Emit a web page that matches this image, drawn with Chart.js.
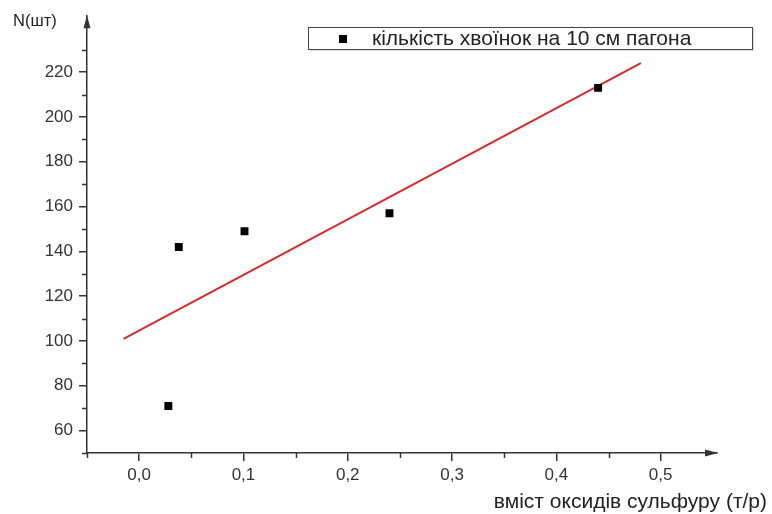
<!DOCTYPE html>
<html>
<head>
<meta charset="utf-8">
<script src="https://cdn.jsdelivr.net/npm/chart.js@4.4.1/dist/chart.umd.min.js"></script>
<style>
html,body{margin:0;padding:0;background:#fff;}
#wrap{width:772px;height:514px;position:relative;}
</style>
</head>
<body>
<div id="wrap"><canvas id="c" width="772" height="514"></canvas></div>
<script>
// ---- data ----
const seriesLabel = 'кількість хвоїнок на 10 см пагона';
const sulfurX = [0.028, 0.038, 0.101, 0.240, 0.440];
const needlesY = [71, 142, 149, 157, 213];
const fitX = [-0.015, 0.481];
const fitY = [101, 224];
const xTickValues = [-0.05, 0, 0.05, 0.1, 0.15, 0.2, 0.25, 0.3, 0.35, 0.4, 0.45, 0.5];
const xMajorLabels = {'0': '0,0', '0.1': '0,1', '0.2': '0,2', '0.3': '0,3', '0.4': '0,4', '0.5': '0,5'};
const yTickValues = [50, 60, 70, 80, 90, 100, 110, 120, 130, 140, 150, 160, 170, 180, 190, 200, 210, 220, 230];
const yTickLabels = [60, 80, 100, 120, 140, 160, 180, 200, 220];
const yTitle = 'N(шт)';
const xTitle = 'вміст оксидів сульфуру (т/р)';

const FONT = '"Liberation Sans", Arial, sans-serif';
const AXIS = '#333';

const scatterPts = sulfurX.map((x, i) => ({x, y: needlesY[i]}));
const fitPts = fitX.map((x, i) => ({x, y: fitY[i]}));
const xKey = v => String(Math.round(v * 100) / 100);
const isXMajor = v => xMajorLabels[xKey(v)] !== undefined;
const isYMajor = v => yTickLabels.includes(v);

const decor = {
  id: 'decor',
  afterDraw(chart) {
    const ctx = chart.ctx, a = chart.chartArea;
    const xs = chart.scales.x, ys = chart.scales.y;
    ctx.save();
    // minor ticks (shorter)
    ctx.strokeStyle = AXIS;
    ctx.lineWidth = 1.5;
    ctx.beginPath();
    xTickValues.filter(v => !isXMajor(v)).forEach(v => {
      const px = Math.round(xs.getPixelForValue(v)) + 0.5;
      ctx.moveTo(px, a.bottom);
      ctx.lineTo(px, a.bottom + 5);
    });
    yTickValues.filter(v => !isYMajor(v)).forEach(v => {
      const py = Math.round(ys.getPixelForValue(v)) + 0.5;
      ctx.moveTo(a.left, py);
      ctx.lineTo(a.left - 5, py);
    });
    ctx.stroke();
    ctx.fillStyle = AXIS;
    // x arrow
    ctx.beginPath();
    ctx.moveTo(a.right + 1, a.bottom);
    ctx.lineTo(a.right - 12, a.bottom - 3.5);
    ctx.lineTo(a.right - 12, a.bottom + 3.5);
    ctx.closePath(); ctx.fill();
    // y arrow
    ctx.beginPath();
    ctx.moveTo(a.left, a.top - 1);
    ctx.lineTo(a.left - 3.5, a.top + 12);
    ctx.lineTo(a.left + 3.5, a.top + 12);
    ctx.closePath(); ctx.fill();
    // titles
    ctx.fillStyle = '#222';
    ctx.font = '16.5px ' + FONT;
    ctx.textBaseline = 'middle';
    ctx.textAlign = 'left';
    ctx.fillText(yTitle, a.left - 74, a.top + 5);
    ctx.font = '21px ' + FONT;
    ctx.textAlign = 'right';
    ctx.fillText(xTitle, a.right + 50, a.bottom + 49);
    // legend box
    const lx = 308, ly = 27, lw = 444, lh = 22;
    ctx.fillStyle = '#ddd';
    ctx.fillRect(lx + 2, ly + 2, lw, lh);
    ctx.fillStyle = '#fff';
    ctx.fillRect(lx, ly, lw, lh);
    ctx.strokeStyle = '#444';
    ctx.lineWidth = 1;
    ctx.strokeRect(lx + 0.5, ly + 0.5, lw, lh);
    ctx.fillStyle = '#000';
    ctx.fillRect(339, ly + 8, 8, 8);
    ctx.fillStyle = '#222';
    ctx.font = '21px ' + FONT;
    ctx.textAlign = 'left';
    ctx.fillText(chart.data.datasets[0].label, 372, ly + 12);
    ctx.restore();
  }
};

new Chart(document.getElementById('c'), {
  type: 'scatter',
  data: {
    datasets: [
      {
        label: seriesLabel,
        data: scatterPts,
        pointStyle: 'rect',
        pointRadius: 5.6,
        pointHoverRadius: 5.6,
        backgroundColor: '#000',
        borderColor: '#000',
        borderWidth: 0,
        order: 1
      },
      {
        label: 'fit',
        type: 'line',
        data: fitPts,
        borderColor: '#d42a2a',
        borderWidth: 2,
        pointRadius: 0,
        fill: false,
        order: 2
      }
    ]
  },
  options: {
    responsive: false,
    animation: false,
    devicePixelRatio: 1,
    layout: {padding: {left: 0, right: 55, top: 15, bottom: 0}},
    plugins: {legend: {display: false}, tooltip: {enabled: false}, title: {display: false}},
    scales: {
      x: {
        type: 'linear',
        min: -0.05,
        max: 0.554,
        afterFit(s) { s.height = 61; },
        afterBuildTicks(s) { s.ticks = xTickValues.map(v => ({value: v})); },
        border: {display: true, color: AXIS, width: 1.5},
        grid: {
          display: true, drawOnChartArea: false, drawTicks: true, tickLength: 8, lineWidth: 1.5,
          tickColor: c => (c.tick && isXMajor(c.tick.value)) ? AXIS : 'rgba(0,0,0,0)'
        },
        ticks: {
          autoSkip: false,
          maxRotation: 0,
          padding: 4,
          color: '#333',
          font: {family: FONT, size: 17},
          callback(v) { return isXMajor(v) ? xMajorLabels[xKey(v)] : ''; }
        }
      },
      y: {
        type: 'linear',
        min: 50,
        max: 245,
        afterFit(s) { s.width = 87; },
        afterBuildTicks(s) { s.ticks = yTickValues.map(v => ({value: v})); },
        border: {display: true, color: AXIS, width: 1.5},
        grid: {
          display: true, drawOnChartArea: false, drawTicks: true, tickLength: 8, lineWidth: 1.5,
          tickColor: c => (c.tick && isYMajor(c.tick.value)) ? AXIS : 'rgba(0,0,0,0)'
        },
        ticks: {
          autoSkip: false,
          padding: 6,
          color: '#333',
          font: {family: FONT, size: 17},
          callback(v) { return isYMajor(v) ? String(v) : ''; }
        }
      }
    }
  },
  plugins: [decor]
});
</script>
</body>
</html>
